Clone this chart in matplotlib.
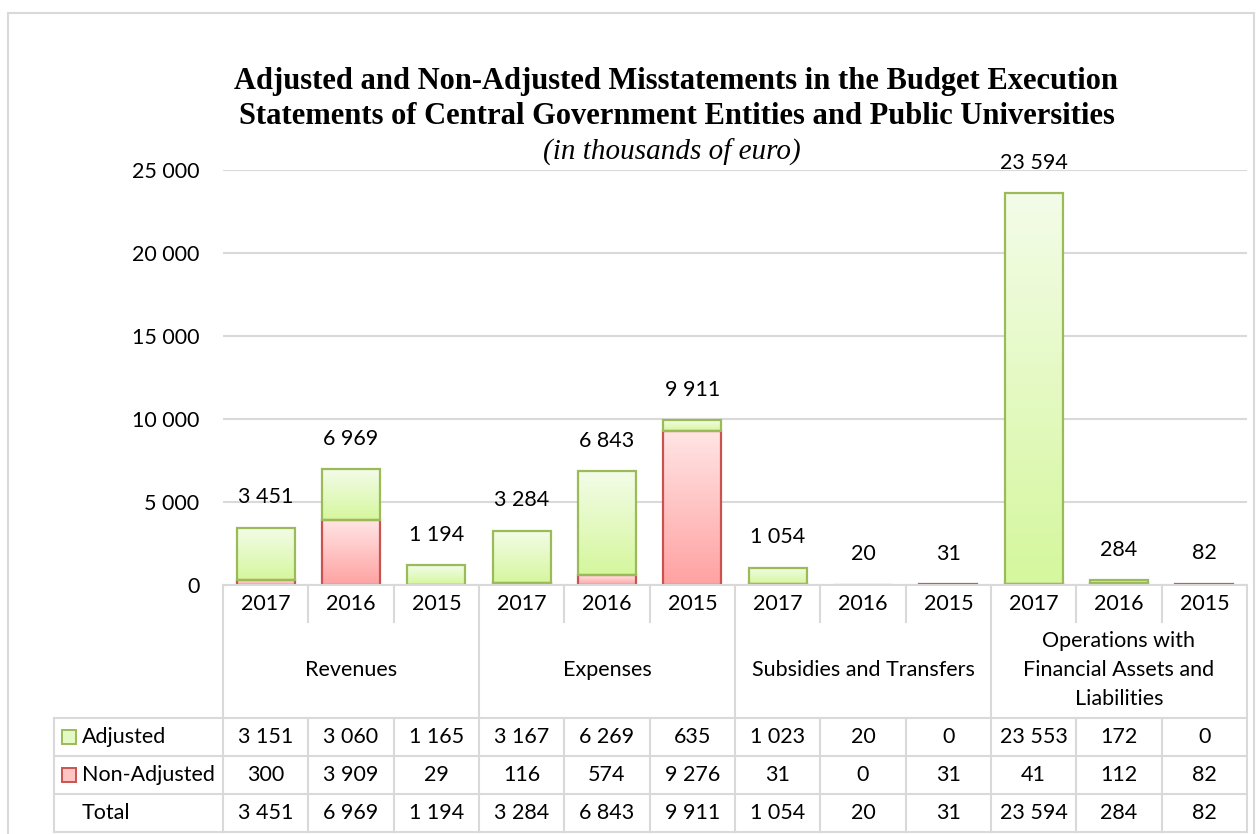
import numpy as np
import matplotlib.pyplot as plt
from matplotlib.lines import Line2D
from matplotlib.patches import Rectangle
from matplotlib.colors import LinearSegmentedColormap

categories = ["Revenues", "Expenses", "Subsidies and Transfers",
              "Operations with\nFinancial Assets and\nLiabilities"]
years = ["2017", "2016", "2015"]
adjusted = [3151, 3060, 1165, 3167, 6269, 635, 1023, 20, 0, 23553, 172, 0]
non_adjusted = [300, 3909, 29, 116, 574, 9276, 31, 0, 31, 41, 112, 82]
totals = [3451, 6969, 1194, 3284, 6843, 9911, 1054, 20, 31, 23594, 284, 82]

W, H = 1260, 834
FONT = "Lato"
FS = 15.5


def fmt(v):
    return "{:,}".format(v).replace(",", " ")


def fx(px):
    return px / W


def fy(py):
    return 1 - py / H


fig = plt.figure(figsize=(W / 100, H / 100), dpi=100)

# outer frame
fig.patches.append(Rectangle((fx(8), fy(845)), fx(1254) - fx(8), fy(13) - fy(845),
                             transform=fig.transFigure, fill=False,
                             edgecolor="#d9d9d9", lw=1.5))

# title
fig.text(fx(676), fy(81), "Adjusted and Non-Adjusted Misstatements in the Budget Execution",
         ha="center", va="center", family="Liberation Serif", weight="bold", fontsize=22)
fig.text(fx(677), fy(117), "Statements of Central Government Entities and Public Universities",
         ha="center", va="center", family="Liberation Serif", weight="bold", fontsize=22)
fig.text(fx(672), fy(152), "(in thousands of euro)",
         ha="center", va="center", family="Liberation Serif", style="italic", fontsize=21)

left, right, top, zero = 223, 1247, 170, 585
ax = fig.add_axes([fx(left), fy(zero), fx(right) - fx(left), fy(top) - fy(zero)])

n = len(adjusted)
x = np.arange(n)
bw = 0.68

green_cm = LinearSegmentedColormap.from_list("g", ["#d5f79d", "#f3fce8"])
red_cm = LinearSegmentedColormap.from_list("r", ["#ffa2a2", "#ffe4e4"])
grad = np.linspace(0, 1, 100).reshape(-1, 1)

for i in range(n):
    segs = [(0, non_adjusted[i], red_cm, "#c9544f"),
            (non_adjusted[i], non_adjusted[i] + adjusted[i], green_cm, "#9bbb59")]
    for y0, y1, cm, ec in segs:
        if y1 - y0 <= 0:
            continue
        ax.imshow(grad, cmap=cm, origin="lower", aspect="auto",
                  extent=(x[i] - bw / 2, x[i] + bw / 2, y0, y1), zorder=2,
                  interpolation="bilinear")
        ax.add_patch(Rectangle((x[i] - bw / 2, y0), bw, y1 - y0, fill=False,
                               edgecolor=ec, lw=1.6, zorder=3))
    ax.annotate(fmt(totals[i]), (x[i], non_adjusted[i] + adjusted[i]), xytext=(0, 22),
                textcoords="offset points", ha="center", va="center",
                family=FONT, fontsize=FS)

ax.set_xlim(-0.5, n - 0.5)
ax.set_ylim(0, 25000)
ax.set_yticks(range(0, 25001, 5000))
ax.set_yticklabels([fmt(v) for v in range(0, 25001, 5000)], family=FONT, fontsize=FS)
ax.tick_params(axis="y", length=0, pad=17)
ax.set_xticks([])
ax.grid(axis="y", color="#d9d9d9", lw=1.5, zorder=0)
ax.set_axisbelow(True)
for s in ax.spines.values():
    s.set_visible(False)

# data table
line_c = "#d9d9d9"
lw = 1.5
colw = (right - left) / n
leg_left = 54
rows_y = [718, 756, 794, 832]


def hline(x0, x1, y):
    fig.add_artist(Line2D([fx(x0), fx(x1)], [fy(y), fy(y)], color=line_c, lw=lw))


def vline(xp, y0, y1):
    fig.add_artist(Line2D([fx(xp), fx(xp)], [fy(y0), fy(y1)], color=line_c, lw=lw))


hline(left, right, zero)
for yy in rows_y:
    hline(leg_left, right, yy)
vline(leg_left, rows_y[0], rows_y[-1])
for i in range(n + 1):
    xp = left + i * colw
    if i % 3 == 0:
        vline(xp, zero, rows_y[-1])
    else:
        vline(xp, zero, 622)
        vline(xp, rows_y[0], rows_y[-1])

for i in range(n):
    cx = left + (i + 0.5) * colw
    fig.text(fx(cx), fy(604), years[i % 3], ha="center", va="center", family=FONT, fontsize=FS)
    for r, vals in enumerate([adjusted, non_adjusted, totals]):
        cy = (rows_y[r] + rows_y[r + 1]) / 2
        fig.text(fx(cx), fy(cy), fmt(vals[i]), ha="center", va="center", family=FONT, fontsize=FS)

for c, name in enumerate(categories):
    cx = left + (3 * c + 1.5) * colw
    fig.text(fx(cx), fy(670), name, ha="center", va="center", family=FONT, fontsize=FS,
             linespacing=1.55)

row_names = ["Adjusted", "Non-Adjusted", "Total"]
markers = [("#e4f9c4", "#9bbb59"), ("#ffc4c4", "#c9544f"), None]
for r, name in enumerate(row_names):
    cy = (rows_y[r] + rows_y[r + 1]) / 2
    if markers[r] is not None:
        fc, ec = markers[r]
        fig.patches.append(Rectangle((fx(62), fy(cy + 7)), fx(14), 14 / H,
                                     transform=fig.transFigure, facecolor=fc,
                                     edgecolor=ec, lw=1.4))
    fig.text(fx(82), fy(cy), name, ha="left", va="center", family=FONT, fontsize=FS)

fig.savefig("out.png", dpi=100)
